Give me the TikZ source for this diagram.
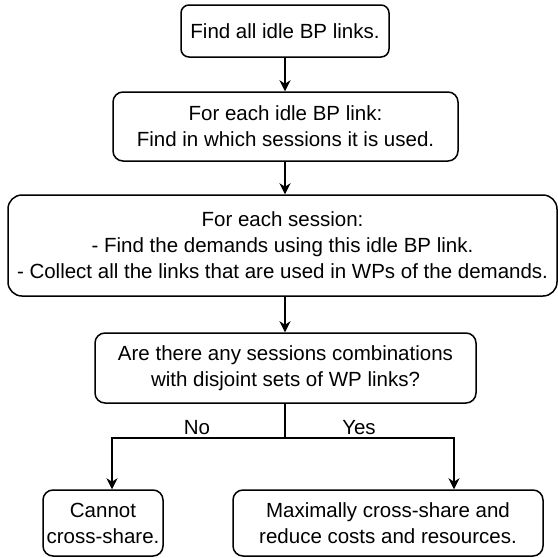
\documentclass[tikz,border=0pt]{standalone}
\usepackage{fontspec}
\setmainfont{Liberation Sans}
\usetikzlibrary{arrows.meta,calc}
\begin{document}
\begin{tikzpicture}[x=1pt,y=1pt,
  every node/.style={font=\fontsize{20.5}{26}\selectfont},
  box/.style={draw=black, line width=1.5pt, align=center, inner sep=0pt, fill=white},
  arr/.style={line width=1.5pt, -{Stealth[length=11pt,width=11pt,inset=3.5pt]}},
  ln/.style={line width=1.5pt},
  lbl/.style={inner sep=0pt}]
\useasboundingbox[fill=white] (0,0) rectangle (558,-558);
\node[box, rounded corners=8pt, minimum width=208pt, minimum height=52pt] (b1) at (285,-31) {Find all idle BP links.};
\node[box, rounded corners=10pt, minimum width=345pt, minimum height=69pt] (b2) at (285.5,-126.5) {For each idle BP link:\\Find in which sessions it is used.};
\node[box, rounded corners=14pt, minimum width=549pt, minimum height=101pt] (b3) at (282.5,-245.5) {For each session:\\- Find the demands using this idle BP link.\\- Collect all the links that are used in WPs of the demands.};
\node[box, rounded corners=10pt, minimum width=381pt, minimum height=70pt] (b4) at (285.5,-368) {Are there any sessions combinations\\with disjoint sets of WP links?};
\node[box, rounded corners=10pt, minimum width=120pt, minimum height=66pt] (b5) at (103,-523) {Cannot\\cross-share.};
\node[box, rounded corners=10pt, minimum width=310pt, minimum height=66pt] (b6) at (388,-523) {Maximally cross-share and\\reduce costs and resources.};
\coordinate (j) at (285,-438);
\coordinate (xl) at (112,0);
\coordinate (xr) at (454,0);
\draw[arr] (b1.south -| j) -- (b2.north -| j);
\draw[arr] (b2.south -| j) -- (b3.north -| j);
\draw[arr] (b3.south -| j) -- (b4.north -| j);
\draw[ln] (b4.south -| j) -- (j);
\draw[arr] (j) -| (b5.north -| xl);
\draw[arr] (j) -| (b6.north -| xr);
\node[lbl] (no) at (197,-428) {No};
\node[lbl] (yes) at (359,-428) {Yes};
\end{tikzpicture}
\end{document}
